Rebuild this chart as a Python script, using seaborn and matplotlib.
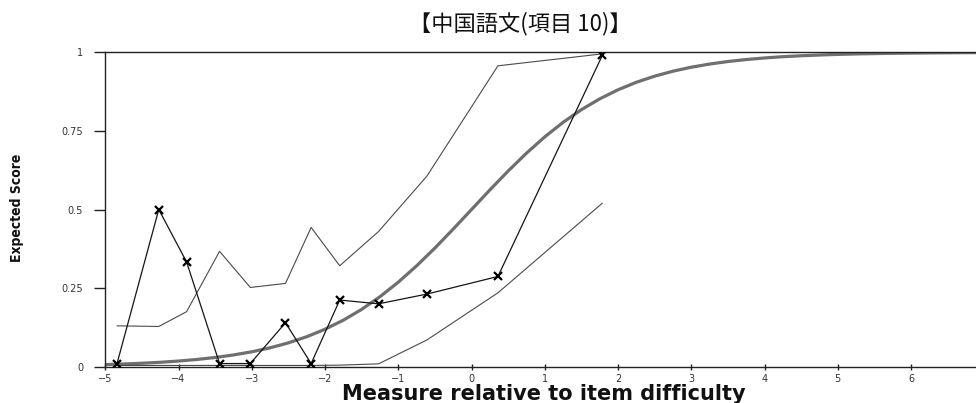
import numpy as np
import pandas as pd
import matplotlib
matplotlib.use("Agg")
import matplotlib.pyplot as plt
import seaborn as sns

# Observed average scores by measure (relative to item difficulty)
obs_measure = [-4.84, -4.27, -3.89, -3.44, -3.02, -2.54, -2.19, -1.80, -1.27, -0.61, 0.36, 1.785]
obs_score = [0.01, 0.50, 0.333, 0.01, 0.01, 0.14, 0.01, 0.212, 0.20, 0.231, 0.287, 0.99]

# Upper and lower confidence bounds at the same measures
upper_ci = [0.13, 0.128, 0.175, 0.367, 0.252, 0.265, 0.443, 0.321, 0.43, 0.606, 0.957, 0.995]
lower_ci = [0.004, 0.004, 0.004, 0.004, 0.004, 0.004, 0.004, 0.005, 0.009, 0.085, 0.235, 0.52]

# Model expected-score curve (ICC) sampled every quarter logit
icc_measure = [-5.0, -4.75, -4.5, -4.25, -4.0, -3.75, -3.5, -3.25, -3.0, -2.75, -2.5, -2.25,
               -2.0, -1.75, -1.5, -1.25, -1.0, -0.75, -0.5, -0.25, 0.0, 0.25, 0.5, 0.75,
               1.0, 1.25, 1.5, 1.75, 2.0, 2.25, 2.5, 2.75, 3.0, 3.25, 3.5, 3.75,
               4.0, 4.25, 4.5, 4.75, 5.0, 5.25, 5.5, 5.75, 6.0, 6.25, 6.5, 6.75, 7.0]
icc_score = [0.0067, 0.0086, 0.0110, 0.0140, 0.0180, 0.0230, 0.0293, 0.0374, 0.0474, 0.0601,
             0.0759, 0.0953, 0.1192, 0.1480, 0.1824, 0.2227, 0.2689, 0.3208, 0.3775, 0.4378,
             0.5000, 0.5622, 0.6225, 0.6792, 0.7311, 0.7773, 0.8176, 0.8520, 0.8808, 0.9047,
             0.9241, 0.9399, 0.9526, 0.9626, 0.9707, 0.9770, 0.9820, 0.9860, 0.9890, 0.9914,
             0.9933, 0.9948, 0.9959, 0.9968, 0.9975, 0.9981, 0.9985, 0.9988, 0.9991]

x_ticks = [-5, -4, -3, -2, -1, 0, 1, 2, 3, 4, 5, 6]
y_ticks = [0, 0.25, 0.5, 0.75, 1]
y_tick_labels = ["0", "0.25", "0.5", "0.75", "1"]

title = "【中国語文(項目 10)】"
x_title = "Measure relative to item difficulty"
y_title = "Expected Score"

sns.set_style("white")
plt.rcParams["font.family"] = ["DejaVu Sans"]

W, H = 976, 403
fig = plt.figure(figsize=(W / 100, H / 100), dpi=100)

# axes spans -5..7 horizontally, the right end runs past the figure edge
x0_px, unit_px = 105.3, 73.25
y0_px, y1_px = 366.7, 52.3
ax = fig.add_axes([x0_px / W, 1 - y0_px / H, 12 * unit_px / W, (y0_px - y1_px) / H])

df_icc = pd.DataFrame({"m": icc_measure, "s": icc_score})
df_obs = pd.DataFrame({"m": obs_measure, "s": obs_score, "u": upper_ci, "l": lower_ci})

sns.lineplot(data=df_icc, x="m", y="s", ax=ax, color="#6f6f6f", linewidth=2.3,
             sort=False, estimator=None, zorder=2)
sns.lineplot(data=df_obs, x="m", y="u", ax=ax, color="#4a4a4a", linewidth=0.8,
             sort=False, estimator=None, zorder=3)
sns.lineplot(data=df_obs, x="m", y="l", ax=ax, color="#4a4a4a", linewidth=0.8,
             sort=False, estimator=None, zorder=3)
sns.lineplot(data=df_obs, x="m", y="s", ax=ax, color="#151515", linewidth=0.9,
             marker="x", markersize=5.5, markeredgewidth=1.6, markeredgecolor="#000000",
             sort=False, estimator=None, zorder=4)

ax.set_xlim(-5, 7)
ax.set_ylim(0, 1)
ax.set_xticks(x_ticks)
ax.set_xticklabels([f"{t}".replace("-", "\u2212") for t in x_ticks])
ax.set_yticks(y_ticks)
ax.set_yticklabels(y_tick_labels)

for side in ["left", "bottom", "top"]:
    ax.spines[side].set_visible(True)
    ax.spines[side].set_color("#222222")
    ax.spines[side].set_linewidth(1.0)
ax.spines["right"].set_visible(False)

ax.tick_params(axis="x", direction="inout", length=4, width=1.0, color="#222222",
               labelsize=7, labelcolor="#333333", pad=3, bottom=True)
ax.tick_params(axis="y", direction="out", length=8, width=1.0, color="#222222",
               labelsize=7, labelcolor="#333333", pad=8, left=True)

ax.set_xlabel(x_title, fontsize=15, fontweight="bold", color="#111111",
              family=["DejaVu Sans"])
ax.xaxis.set_label_coords((544 - x0_px) / (12 * unit_px), -(400 - y0_px) / (y0_px - y1_px))
ax.xaxis.label.set_va("baseline")

ax.set_ylabel(y_title, fontsize=10, fontweight="bold", color="#111111",
              family=["DejaVu Sans"], fontstretch="condensed")
ax.yaxis.set_label_coords((17.5 - x0_px) / (12 * unit_px), (y0_px - 208) / (y0_px - y1_px))
ax.yaxis.label.set_va("center")

fig.text(520 / W, 1 - 24 / H, title, ha="center", va="center", fontsize=16,
         color="#111111", family=["Noto Sans CJK JP", "DejaVu Sans"])

fig.savefig("out.png", dpi=100)
